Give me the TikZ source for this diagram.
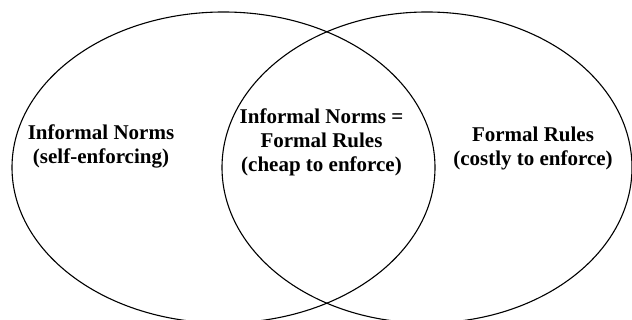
\documentclass[tikz,border=0pt]{standalone}
\usepackage{fontspec}
\setmainfont{Liberation Serif}
\begin{document}
\begin{tikzpicture}[
  x=1pt, y=1pt,
  line width=1.1pt,
  every node/.style={inner sep=1pt, align=center, font=\fontsize{21}{24}\selectfont\bfseries}
]
  \useasboundingbox (0,0) rectangle (632,320);
  \clip (0,0) rectangle (632,320);

  \draw (223.5,152.5) ellipse [x radius=211.5, y radius=155.5];
  \draw (427,152.5) ellipse [x radius=205, y radius=155.5];

  \node (informal) at (101,174) {Informal Norms\\(self-enforcing)};
  \node (both) at (321.5,178) {Informal Norms =\\Formal Rules\\(cheap to enforce)};
  \node (formal) at (533,172) {Formal Rules\\(costly to enforce)};
\end{tikzpicture}
\end{document}
